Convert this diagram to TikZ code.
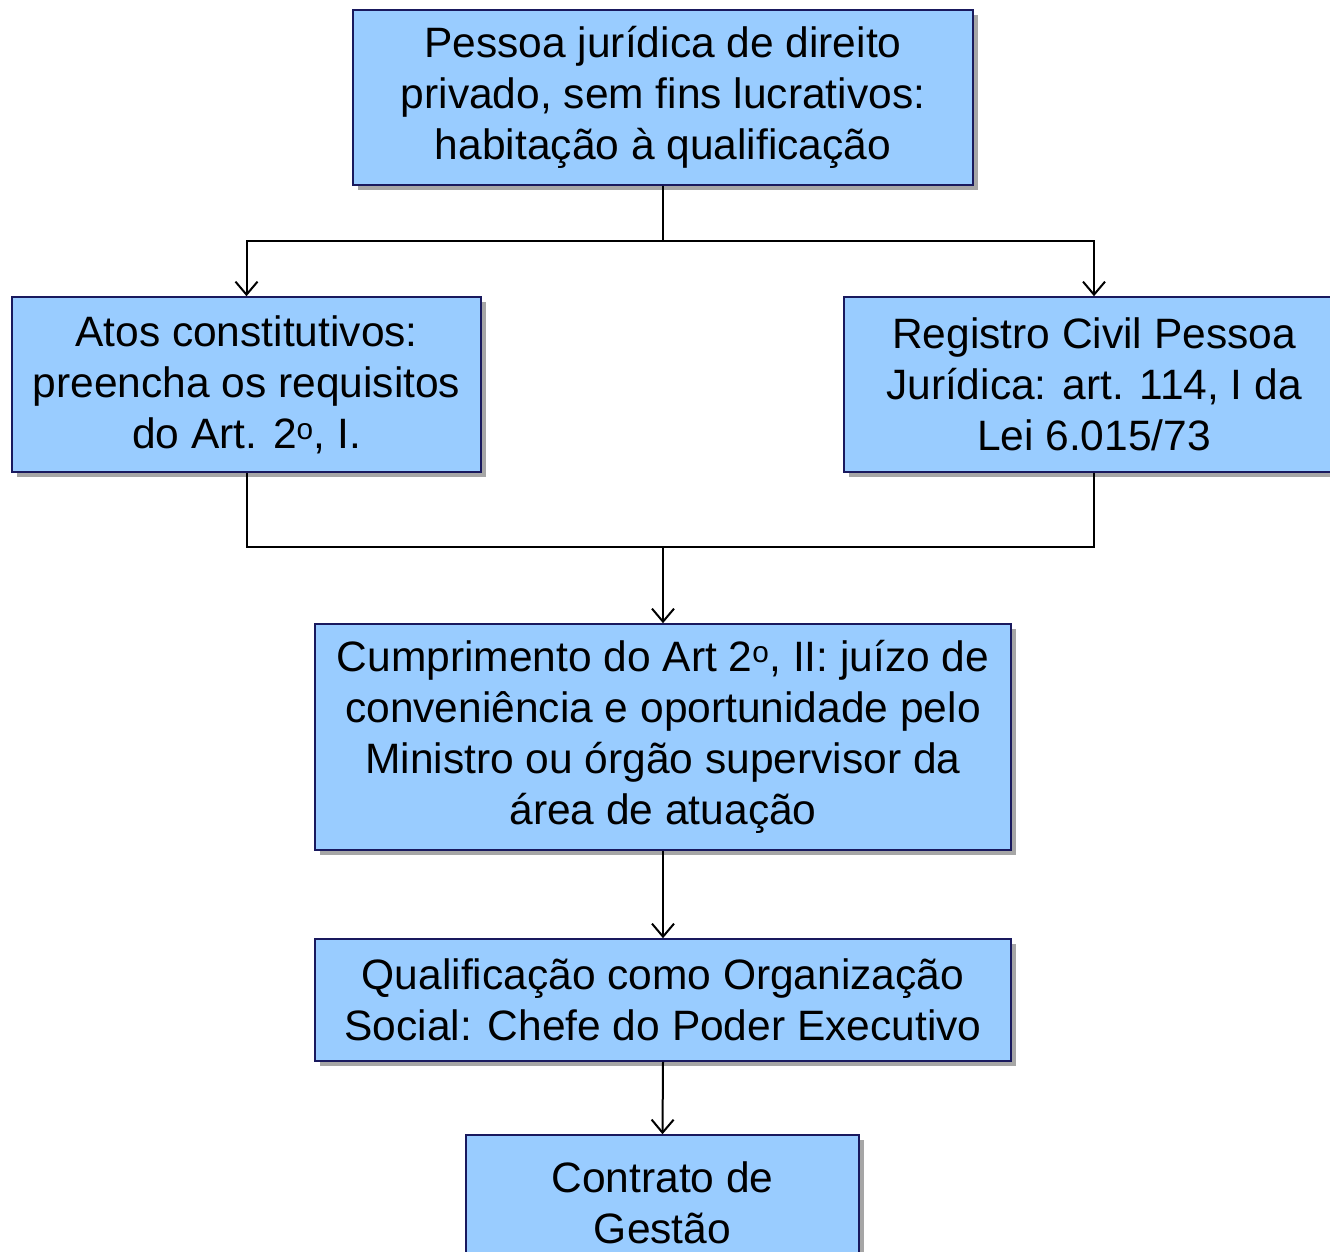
\documentclass[tikz,border=0pt]{standalone}
\usepackage{fontspec}
\setmainfont{Liberation Sans}
\usetikzlibrary{arrows.meta,shadows}
\begin{document}
\begin{tikzpicture}[x=1pt,y=-1pt,
  box/.style={draw=blue!30!black!90, line width=1.6pt, fill=boxblue, inner sep=0pt,
    align=center, font=\fontsize{42.5}{51}\selectfont,
    drop shadow={shadow xshift=5pt, shadow yshift=-5pt, fill=black, opacity=0.35}},
  conn/.style={line width=2pt, black},
  arr/.style={conn, -{Straight Barb[length=13pt,width=22pt,line width=2pt]}}]
\definecolor{boxblue}{HTML}{99CCFF}
\useasboundingbox (0,0) rectangle (1330,1252);
\node[box, minimum width=620pt, minimum height=175pt] (top) at (663,97.5)
  {Pessoa jurídica de direito\\privado, sem fins lucrativos:\\habitação à qualificação};
\node[box, minimum width=469pt, minimum height=175pt] (left) at (246.5,384.5)
  {Atos constitutivos:\\preencha os requisitos\\do Art. 2\textsuperscript{o}, I.};
\node[box, minimum width=500pt, minimum height=175pt] (right) at (1094,384.5)
  {Registro Civil Pessoa\\Jurídica: art. 114, I da\\Lei 6.015/73};
\node[box, minimum width=696pt, minimum height=226pt] (mid) at (663,737)
  {Cumprimento do Art 2\textsuperscript{o}, II: juízo de\\conveniência e oportunidade pelo\\Ministro ou órgão supervisor da\\área de atuação};
\node[box, minimum width=696pt, minimum height=122pt] (qual) at (663,1000)
  {Qualificação como Organização\\Social: Chefe do Poder Executivo};
\node[box, minimum width=393pt, minimum height=136pt] (con) at (662.5,1203)
  {Contrato de\\Gestão};
\coordinate (j1) at (663,241);
\coordinate (j2) at (663,547);
\draw[conn] (top.south) -- (j1);
\draw[arr] (j1) -| (left.north);
\draw[arr] (j1) -| (right.north);
\draw[conn] (left.south) |- (j2);
\draw[conn] (right.south) |- (j2);
\draw[arr] (j2) -- (mid.north);
\draw[arr] (mid.south) -- (qual.north);
\draw[arr] (qual.south) -- (con.north);
\end{tikzpicture}
\end{document}
